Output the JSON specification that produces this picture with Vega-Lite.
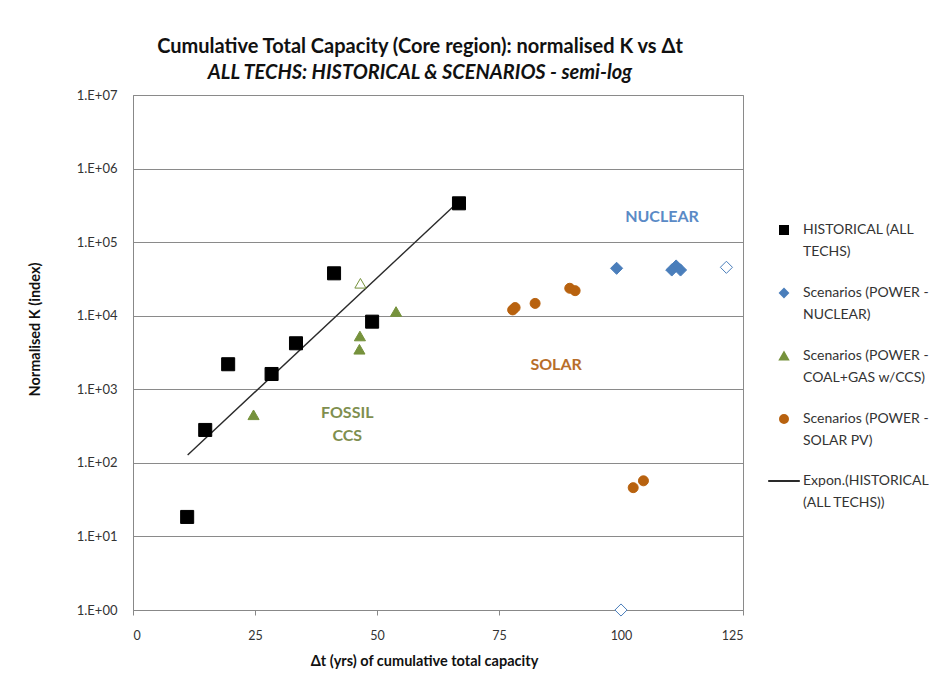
{
  "$schema": "https://vega.github.io/schema/vega-lite/v6.json",
  "width": 610,
  "height": 515,
  "autosize": {"type": "none"},
  "padding": {"left": 133, "top": 95, "right": 203, "bottom": 65},
  "background": "white",
  "config": {
    "view": {"stroke": "#8a8a8a", "strokeWidth": 1},
    "font": "Lato"
  },
  "title": {
    "text": "Cumulative Total Capacity (Core region): normalised K  vs Δt",
    "subtitle": "ALL TECHS: HISTORICAL & SCENARIOS - semi-log",
    "font": "Lato",
    "fontSize": 20,
    "fontWeight": "bold",
    "color": "#111111",
    "subtitleFont": "Lato",
    "subtitleFontSize": 20,
    "subtitleFontStyle": "italic",
    "subtitleFontWeight": "bold",
    "subtitleColor": "#111111",
    "subtitlePadding": 6,
    "anchor": "middle",
    "dx": -18,
    "offset": 6
  },
  "datasets": {
    "pts": [
      {"series": "HISTORICAL (ALL TECHS)", "dt": 11.1, "k": 18.4, "open": false},
      {"series": "HISTORICAL (ALL TECHS)", "dt": 14.8, "k": 280, "open": false},
      {"series": "HISTORICAL (ALL TECHS)", "dt": 19.5, "k": 2190, "open": false},
      {"series": "HISTORICAL (ALL TECHS)", "dt": 28.4, "k": 1614, "open": false},
      {"series": "HISTORICAL (ALL TECHS)", "dt": 33.4, "k": 4220, "open": false},
      {"series": "HISTORICAL (ALL TECHS)", "dt": 41.2, "k": 37700, "open": false},
      {"series": "HISTORICAL (ALL TECHS)", "dt": 49.0, "k": 8300, "open": false},
      {"series": "HISTORICAL (ALL TECHS)", "dt": 66.8, "k": 337000, "open": false},
      {"series": "Scenarios (POWER - NUCLEAR)", "dt": 99.1, "k": 44100, "open": false},
      {"series": "Scenarios (POWER - NUCLEAR)", "dt": 111.3, "k": 47400, "open": false},
      {"series": "Scenarios (POWER - NUCLEAR)", "dt": 110.4, "k": 41800, "open": false},
      {"series": "Scenarios (POWER - NUCLEAR)", "dt": 112.2, "k": 41800, "open": false},
      {"series": "Scenarios (POWER - NUCLEAR)", "dt": 121.6, "k": 45500, "open": true},
      {"series": "Scenarios (POWER - NUCLEAR)", "dt": 100.0, "k": 1, "open": true},
      {"series": "Scenarios (POWER - COAL+GAS w/CCS)", "dt": 24.7, "k": 450, "open": false},
      {"series": "Scenarios (POWER - COAL+GAS w/CCS)", "dt": 46.5, "k": 5300, "open": false},
      {"series": "Scenarios (POWER - COAL+GAS w/CCS)", "dt": 46.4, "k": 3500, "open": false},
      {"series": "Scenarios (POWER - COAL+GAS w/CCS)", "dt": 53.9, "k": 11400, "open": false},
      {"series": "Scenarios (POWER - COAL+GAS w/CCS)", "dt": 46.6, "k": 27600, "open": true},
      {"series": "Scenarios (POWER - SOLAR PV)", "dt": 77.8, "k": 12000, "open": false},
      {"series": "Scenarios (POWER - SOLAR PV)", "dt": 78.3, "k": 12900, "open": false},
      {"series": "Scenarios (POWER - SOLAR PV)", "dt": 82.4, "k": 14700, "open": false},
      {"series": "Scenarios (POWER - SOLAR PV)", "dt": 89.5, "k": 23600, "open": false},
      {"series": "Scenarios (POWER - SOLAR PV)", "dt": 90.6, "k": 21900, "open": false},
      {"series": "Scenarios (POWER - SOLAR PV)", "dt": 102.5, "k": 46, "open": false},
      {"series": "Scenarios (POWER - SOLAR PV)", "dt": 104.6, "k": 57, "open": false}
    ],
    "trend": [
      {"series": "Expon.(HISTORICAL (ALL TECHS))", "dt": 11.2, "k": 128},
      {"series": "Expon.(HISTORICAL (ALL TECHS))", "dt": 66.8, "k": 360000}
    ],
    "notes": [
      {"label": "NUCLEAR", "dt": 108.4, "k": 217000},
      {"label": "SOLAR", "dt": 86.7, "k": 2140},
      {"label": "FOSSIL", "dt": 43.9, "k": 472},
      {"label": "CCS", "dt": 43.9, "k": 235}
    ]
  },
  "layer": [
    {
      "data": {"name": "trend"},
      "mark": {"type": "line", "strokeWidth": 1.4},
      "encoding": {
        "x": {"field": "dt", "type": "quantitative"},
        "y": {"field": "k", "type": "quantitative"},
        "stroke": {
          "field": "series", "type": "nominal",
          "scale": {
            "domain": ["HISTORICAL (ALL TECHS)", "Scenarios (POWER - NUCLEAR)", "Scenarios (POWER - COAL+GAS w/CCS)", "Scenarios (POWER - SOLAR PV)", "Expon.(HISTORICAL (ALL TECHS))"],
            "range": ["#000000", "#4A7EBB", "#76923C", "#B8620F", "#2a2a2a"]
          },
          "legend": {
            "title": null,
            "orient": "none",
            "legendX": 644,
            "legendY": 128,
            "padding": 0,
            "symbolSize": 1000,
            "symbolStrokeWidth": 2,
            "labelFont": "Lato",
            "labelFontSize": 14,
            "labelColor": "#333333",
            "labelOffset": 12,
            "labelLimit": 200,
            "rowPadding": 26,
            "labelExpr": "datum.label == 'HISTORICAL (ALL TECHS)' ? ['HISTORICAL (ALL', 'TECHS)'] : datum.label == 'Scenarios (POWER - NUCLEAR)' ? ['Scenarios (POWER -', 'NUCLEAR)'] : datum.label == 'Scenarios (POWER - COAL+GAS w/CCS)' ? ['Scenarios (POWER -', 'COAL+GAS w/CCS)'] : datum.label == 'Scenarios (POWER - SOLAR PV)' ? ['Scenarios (POWER -', 'SOLAR PV)'] : ['Expon.(HISTORICAL', '(ALL TECHS))']",
            "encode": {
              "symbols": {"update": {"size": {"signal": "datum.value == 'Expon.(HISTORICAL (ALL TECHS))' ? 1000 : 64"}}},
              "labels": {"update": {"lineHeight": {"value": 22}}}
            }
          }
        }
      }
    },
    {
      "data": {"name": "pts"},
      "mark": {"type": "point", "strokeWidth": 1, "opacity": 1},
      "encoding": {
        "x": {
          "field": "dt", "type": "quantitative",
          "scale": {"domain": [0, 125], "nice": false, "zero": false},
          "axis": {
            "title": "Δt (yrs) of cumulative total capacity",
            "values": [0, 25, 50, 75, 100, 125],
            "grid": false,
            "tickSize": 5,
            "tickColor": "#888888",
            "domainColor": "#888888",
            "labelFont": "Lato",
            "labelFontSize": 12.5,
            "labelColor": "#333333",
            "labelPadding": 14,
            "titleFont": "Lato",
            "titleFontSize": 14.5,
            "titleFontWeight": "bold",
            "titleColor": "#111111",
            "titlePadding": 13,
            "titleX": 291
          }
        },
        "y": {
          "field": "k", "type": "quantitative",
          "scale": {"type": "log", "domain": [1, 10000000], "nice": false},
          "axis": {
            "title": "Normalised K (index)",
            "values": [1, 10, 100, 1000, 10000, 100000, 1000000, 10000000],
            "labelExpr": "'1.E+0' + round(log(datum.value) / LN10)",
            "grid": true,
            "gridColor": "#8a8a8a",
            "gridWidth": 1.2,
            "ticks": false,
            "domainColor": "#888888",
            "labelFont": "Lato",
            "labelFontSize": 13,
            "labelColor": "#333333",
            "labelPadding": 16,
            "titleFont": "Lato",
            "titleFontSize": 14.5,
            "titleFontWeight": "bold",
            "titleColor": "#111111",
            "titleX": -91,
            "titleY": 234
          }
        },
        "shape": {
          "field": "series", "type": "nominal",
          "scale": {
            "domain": ["HISTORICAL (ALL TECHS)", "Scenarios (POWER - NUCLEAR)", "Scenarios (POWER - COAL+GAS w/CCS)", "Scenarios (POWER - SOLAR PV)", "Expon.(HISTORICAL (ALL TECHS))"],
            "range": ["square", "diamond", "triangle-up", "circle", "stroke"]
          }
        },
        "size": {
          "field": "series", "type": "nominal",
          "scale": {
            "domain": ["HISTORICAL (ALL TECHS)", "Scenarios (POWER - NUCLEAR)", "Scenarios (POWER - COAL+GAS w/CCS)", "Scenarios (POWER - SOLAR PV)"],
            "range": [170, 100, 150, 150]
          },
          "legend": null
        },
        "fill": {
          "condition": {"test": "datum.open", "value": "#ffffff"},
          "field": "series", "type": "nominal",
          "scale": {
            "domain": ["HISTORICAL (ALL TECHS)", "Scenarios (POWER - NUCLEAR)", "Scenarios (POWER - COAL+GAS w/CCS)", "Scenarios (POWER - SOLAR PV)", "Expon.(HISTORICAL (ALL TECHS))"],
            "range": ["#000000", "#4A7EBB", "#76923C", "#B8620F", "#2a2a2a"]
          }
        },
        "stroke": {"field": "series", "type": "nominal"}
      }
    },
    {
      "data": {"name": "notes"},
      "transform": [{"filter": "datum.label == 'NUCLEAR'"}],
      "mark": {"type": "text", "font": "Lato", "fontSize": 16, "fontWeight": "bold", "color": "#5A8AC6"},
      "encoding": {
        "x": {"field": "dt", "type": "quantitative"},
        "y": {"field": "k", "type": "quantitative"},
        "text": {"field": "label"}
      }
    },
    {
      "data": {"name": "notes"},
      "transform": [{"filter": "datum.label == 'SOLAR'"}],
      "mark": {"type": "text", "font": "Lato", "fontSize": 16, "fontWeight": "bold", "color": "#B86E2A"},
      "encoding": {
        "x": {"field": "dt", "type": "quantitative"},
        "y": {"field": "k", "type": "quantitative"},
        "text": {"field": "label"}
      }
    },
    {
      "data": {"name": "notes"},
      "transform": [{"filter": "datum.label == 'FOSSIL' || datum.label == 'CCS'"}],
      "mark": {"type": "text", "font": "Lato", "fontSize": 16, "fontWeight": "bold", "color": "#7F8F4F"},
      "encoding": {
        "x": {"field": "dt", "type": "quantitative"},
        "y": {"field": "k", "type": "quantitative"},
        "text": {"field": "label"}
      }
    }
  ]
}
